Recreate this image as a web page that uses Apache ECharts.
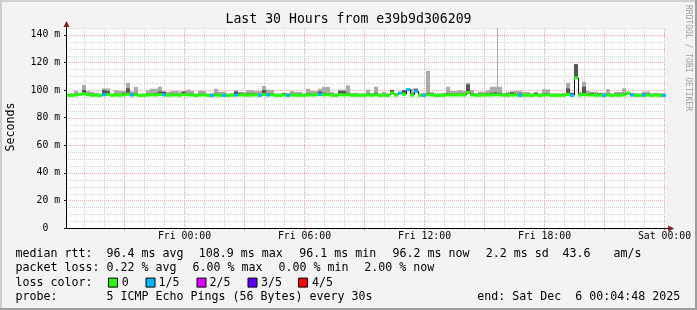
<!DOCTYPE html>
<html><head><meta charset="utf-8">
<script src="https://cdn.jsdelivr.net/npm/echarts@6/dist/echarts.min.js"></script>
<style>html,body{margin:0;padding:0;background:#f3f3f3}#c{width:697px;height:310px}</style>
</head><body><div id="c"></div>
<script>
// ---- time frame (hours relative to Fri 00:00) ----
const START_HOUR = -5.92;     // Thu 18:04:48
const SPAN_HOURS = 30;
const BUCKET_HOURS = 0.2;     // 12 minute buckets

// ---- data (ms) ----
const median = [
 96.3,96.2,96.4,97.0,97.2,96.6,96.3,96.3,96.2,96.6,
 96.8,96.3,96.4,96.3,96.5,97.0,96.4,96.6,96.2,96.2,
 96.4,96.5,96.4,96.8,96.5,96.3,96.4,96.4,96.3,96.8,
 96.5,96.4,96.2,96.4,96.5,96.2,96.2,96.4,96.3,96.2,
 96.2,96.3,96.4,96.5,96.4,96.3,96.4,96.4,96.2,96.8,
 96.4,96.5,96.2,96.1,96.4,96.2,96.4,96.3,96.3,96.2,
 96.4,96.4,96.5,96.8,96.5,96.6,96.3,96.2,96.6,96.5,
 96.6,96.3,96.3,96.2,96.3,96.4,96.3,96.5,96.2,96.3,
 96.2,97.8,96.4,97.9,97.0,100.3,96.4,99.2,96.3,96.2,
 96.6,96.4,96.2,96.2,96.3,96.5,96.4,96.4,96.5,96.4,
 98.2,96.5,96.3,96.3,96.4,96.4,96.5,96.6,96.5,96.3,
 96.3,96.4,96.4,96.2,96.3,96.3,96.2,96.4,96.2,96.4,
 96.5,96.2,96.2,96.2,96.3,96.8,96.2,108.9,96.4,96.7,
 96.5,96.4,96.3,96.3,96.2,96.4,96.2,96.3,96.3,96.5,
 97.8,96.4,96.2,96.2,96.3,96.4,96.2,96.3,96.2,96.2
];
const smokeHi = [
 97.4,97.6,99.3,97.8,103.6,99.3,98.6,98.0,97.5,101.2,
 101.2,97.4,100.0,99.3,99.3,105.3,99.0,102.2,97.4,97.6,
 100.0,101.0,101.0,102.4,98.6,98.6,99.3,99.5,99.0,99.3,
 100.4,99.5,97.5,99.5,99.5,97.5,97.6,101.0,98.8,98.8,
 97.5,97.6,99.8,98.6,98.6,100.0,100.0,99.3,99.3,102.9,
 100.4,100.0,97.6,97.5,98.0,97.9,99.3,98.6,98.6,97.6,
 101.0,99.3,99.3,101.0,102.2,102.2,98.6,97.6,100.4,100.4,
 103.4,97.8,98.0,97.6,97.6,100.4,97.8,102.4,97.6,98.8,
 97.6,100.0,97.8,98.5,100.0,101.0,101.0,101.0,97.6,97.8,
 114.0,98.5,97.6,97.6,97.8,102.4,99.3,99.3,100.0,99.3,
 105.3,100.0,97.8,98.8,98.8,100.0,102.4,102.4,102.4,97.8,
 98.8,99.0,99.5,99.5,98.6,98.6,97.6,98.6,97.6,100.5,
 100.5,97.6,97.6,97.6,97.8,105.3,98.0,118.8,98.4,106.0,
 99.5,98.6,98.6,98.0,98.0,100.7,97.6,98.6,98.6,101.2,
 98.5,98.0,97.6,97.6,99.0,99.0,97.8,98.0,97.8,97.6
];
const smokeDark = [
 97.0,97.0,97.4,97.4,100.0,97.8,97.2,97.0,97.0,100.0,
 99.3,97.0,97.4,97.2,98.0,101.2,97.4,98.0,97.0,97.0,
 97.4,97.4,97.6,99.0,99.0,97.2,97.4,97.4,97.2,98.8,
 97.4,97.4,97.0,97.4,97.4,97.0,97.0,97.6,97.2,97.2,
 97.0,97.0,99.0,98.0,97.2,97.6,97.6,97.4,97.2,100.0,
 97.6,97.6,97.0,97.0,97.8,97.0,97.4,97.2,97.2,97.0,
 97.6,97.4,97.4,99.0,98.0,97.8,97.2,97.0,99.3,99.3,
 98.0,97.2,97.2,97.0,97.0,97.6,97.2,98.0,97.0,97.2,
 97.0,100.0,97.2,97.9,100.0,100.3,97.4,101.0,97.0,97.0,
 98.0,97.4,97.0,97.0,97.2,97.8,97.4,97.4,97.6,97.4,
 104.0,97.6,97.2,97.4,97.4,97.6,98.0,98.5,98.0,97.2,
 97.4,98.5,97.6,97.4,97.2,97.2,97.0,98.0,97.0,97.6,
 97.6,97.0,97.0,97.0,97.2,101.2,98.0,118.8,97.4,102.4,
 97.6,98.0,97.4,97.8,97.0,97.6,97.0,97.4,97.4,97.6,
 98.2,97.2,97.0,97.0,97.4,97.4,97.0,97.2,97.0,97.0
];
// number of lost pings (out of 5) per bucket
const lossCount = [
 0,0,0,0,0,0,0,0,0,1, 0,0,0,0,0,0,1,0,0,0,
 0,0,0,0,1,0,0,0,0,0, 0,0,0,0,0,0,1,0,0,1,
 0,0,1,0,0,0,0,0,1,0, 1,0,0,0,0,1,0,0,0,0,
 0,0,0,1,0,0,0,0,0,0, 0,0,0,0,0,0,0,0,0,0,
 0,0,0,1,0,1,0,1,0,1, 0,0,0,0,0,0,0,0,0,0,
 0,0,0,0,0,0,0,0,0,0, 0,0,0,1,0,0,0,0,0,0,
 0,0,0,0,0,0,1,0,0,0, 0,0,0,0,1,0,0,0,0,0,
 0,1,0,0,1,0,0,0,0,1
];
// single-sample outliers (hour relative to Fri 00:00, max rtt in ms)
const spikeHours = [15.64];
const spikeValues = [145];

const lossColors = ['#26ff00','#00b8ff','#dd00ff','#5e00ff','#ff0000'];
const lossLabels = ['0','1/5','2/5','3/5','4/5'];

const xTickHours = [0,6,12,18,24];
const xTickLabels = ['Fri 00:00','Fri 06:00','Fri 12:00','Fri 18:00','Sat 00:00'];
const yTickValues = [0,20,40,60,80,100,120,140];
const yTickLabels = ['0  ','20 m','40 m','60 m','80 m','100 m','120 m','140 m'];
const Y_MAX = 145;
const gridHours = [];
for (let h = -5; h <= 24; h++) gridHours.push(h);
const gridValues = [];
for (let v = 5; v <= 145; v += 5) gridValues.push(v);

const titleText = 'Last 30 Hours from e39b9d306209';
const legendRtt = [
  ['median rtt:  96.4 ms avg', 15.5],
  ['108.9 ms max', 198.8],
  ['96.1 ms min', 299.2],
  ['96.2 ms now', 392.5],
  ['2.2 ms sd', 485.7],
  ['43.6', 562.5],
  ['am/s', 613.5]
];
const legendLoss = [
  ['packet loss: 0.22 % avg', 15.5],
  ['6.00 % max', 192.5],
  ['0.00 % min', 278.5],
  ['2.00 % now', 364.2]
];
const probeText = ['probe:', '5 ICMP Echo Pings (56 Bytes) every 30s'];
const endText = 'end: Sat Dec  6 00:04:48 2025';

const MONO = '"DejaVu Sans Mono", monospace';
const MAJOR = '#f5a8a8', MINOR = '#d2d2d2';

const chart = echarts.init(document.getElementById('c'), null, {renderer: 'canvas'});

function bx(api, i) {
  const a = api.coord([START_HOUR + i * BUCKET_HOURS, 0])[0];
  const b = api.coord([START_HOUR + (i + 1) * BUCKET_HOURS, 0])[0];
  return [Math.round(a), Math.round(b)];
}

const option = {
  animation: false,
  backgroundColor: '#f3f3f3',
  grid: {left: 66.1, width: 600, top: 28, height: 200, backgroundColor: '#ffffff', show: true, borderWidth: 0},
  xAxis: {
    type: 'value', min: START_HOUR, max: START_HOUR + SPAN_HOURS,
    axisLine: {show: false, onZero: false},
    axisTick: {show: true, customValues: [-3,0,3,6,9,12,15,18,21,24], length: 2, lineStyle: {color: '#e06060'}},
    axisLabel: {
      customValues: xTickHours, margin: 3,
      fontFamily: MONO, fontSize: 9.8, color: '#000',
      formatter: v => { const k = xTickHours.indexOf(Math.round(v * 1000) / 1000); return k >= 0 ? xTickLabels[k] : ''; }
    },
    splitLine: {show: false}
  },
  yAxis: {
    type: 'value', min: 0, max: Y_MAX, interval: 20,
    axisLine: {show: false, onZero: false},
    axisTick: {show: true, customValues: yTickValues, length: 2, lineStyle: {color: '#000'}},
    axisLabel: {
      customValues: yTickValues, margin: 6,
      fontFamily: MONO, fontSize: 9.8, color: '#000',
      formatter: v => { const k = yTickValues.indexOf(v); return k >= 0 ? yTickLabels[k] : ''; }
    },
    splitLine: {show: false}
  },
  series: [
    { // vertical grid
      type: 'custom', silent: true, z: 1,
      data: gridHours.map(h => [h, 0]),
      renderItem(p, api) {
        const h = gridHours[p.dataIndex];
        const x = Math.floor(api.coord([h, 0])[0]) + 0.5;
        const yb = api.coord([h, 0])[1], yt = api.coord([h, Y_MAX])[1];
        return {type: 'line', shape: {x1: x, y1: yt, x2: x, y2: yb},
          style: {stroke: h % 3 === 0 ? MAJOR : MINOR, lineWidth: 1, lineDash: [1, 1]}};
      }
    },
    { // horizontal grid
      type: 'custom', silent: true, z: 1,
      data: gridValues.map(v => [START_HOUR, v]),
      renderItem(p, api) {
        const v = gridValues[p.dataIndex];
        const y = Math.round(api.coord([START_HOUR, v])[1]) + 0.5;
        const x0 = api.coord([START_HOUR, v])[0], x1 = api.coord([START_HOUR + SPAN_HOURS, v])[0];
        return {type: 'line', shape: {x1: x0, y1: y, x2: x1, y2: y},
          style: {stroke: v % 20 === 0 ? MAJOR : MINOR, lineWidth: 1, lineDash: [1, 1]}};
      }
    },
    { // smoke
      type: 'custom', silent: true, clip: true, z: 2,
      data: median.map((m, i) => [START_HOUR + (i + 0.5) * BUCKET_HOURS, m]),
      renderItem(p, api) {
        const i = p.dataIndex;
        const [x0, x1] = bx(api, i);
        const ym = api.coord([0, median[i]])[1];
        const yh = api.coord([0, smokeHi[i]])[1];
        const yd = api.coord([0, smokeDark[i]])[1];
        return {type: 'group', children: [
          {type: 'rect', shape: {x: x0, y: yh, width: x1 - x0, height: ym - yh + 1}, style: {fill: '#aaaaaa'}},
          {type: 'rect', shape: {x: x0, y: yd, width: x1 - x0, height: ym - yd + 1}, style: {fill: '#555555'}}
        ]};
      }
    },
    { // thin single-sample spikes
      type: 'custom', silent: true, clip: true, z: 2,
      data: spikeHours.map((h, k) => [h, spikeValues[k]]),
      renderItem(p, api) {
        const k = p.dataIndex;
        const top = api.coord([spikeHours[k], spikeValues[k]]);
        const bot = api.coord([spikeHours[k], 97]);
        const x = Math.floor(top[0]) + 0.5;
        return {type: 'line', shape: {x1: x, y1: top[1], x2: x, y2: bot[1]}, style: {stroke: '#aaaaaa', lineWidth: 1}};
      }
    },
    { // median line coloured by loss
      type: 'custom', silent: true, clip: true, z: 3,
      data: median.map((m, i) => [START_HOUR + (i + 0.5) * BUCKET_HOURS, m]),
      renderItem(p, api) {
        const i = p.dataIndex;
        const [x0, x1] = bx(api, i);
        const ym = api.coord([0, median[i]])[1];
        const yp = api.coord([0, median[i > 0 ? i - 1 : i]])[1];
        return {type: 'group', children: [
          {type: 'line', shape: {x1: x0 + 0.5, y1: yp, x2: x0 + 0.5, y2: ym}, style: {stroke: '#111', lineWidth: 1}},
          {type: 'line', shape: {x1: x0, y1: ym, x2: x1, y2: ym}, style: {stroke: lossColors[lossCount[i]], lineWidth: 3, lineCap: 'butt'}}
        ]};
      }
    }
  ]
};
chart.setOption(option);

// ---- decorations & texts ----
const g = [];
// frame
g.push({type: 'rect', shape: {x: 0, y: 0, width: 697, height: 2}, style: {fill: '#cfcfcf'}, z: 100});
g.push({type: 'rect', shape: {x: 0, y: 0, width: 2, height: 310}, style: {fill: '#cfcfcf'}, z: 100});
g.push({type: 'rect', shape: {x: 695, y: 0, width: 2, height: 310}, style: {fill: '#9e9e9e'}, z: 100});
g.push({type: 'rect', shape: {x: 0, y: 308, width: 697, height: 2}, style: {fill: '#9e9e9e'}, z: 100});

// axis lines + arrows
const o = chart.convertToPixel({gridIndex: 0}, [START_HOUR, 0]);
const e = chart.convertToPixel({gridIndex: 0}, [START_HOUR + SPAN_HOURS, Y_MAX]);
const ax = Math.floor(o[0]) + 0.5, ay = Math.round(o[1]) + 0.5;
g.push({type: 'line', shape: {x1: ax - 0.5, y1: ay, x2: e[0] + 3, y2: ay}, style: {stroke: '#000', lineWidth: 1}, z: 50});
g.push({type: 'line', shape: {x1: ax, y1: ay + 0.5, x2: ax, y2: e[1] - 2}, style: {stroke: '#000', lineWidth: 1}, z: 50});
g.push({type: 'polygon', shape: {points: [[e[0] + 2, ay - 3], [e[0] + 2, ay + 3], [e[0] + 8, ay]]}, style: {fill: '#7f1f1f'}, z: 50});
g.push({type: 'polygon', shape: {points: [[ax - 3, e[1] - 1], [ax + 3, e[1] - 1], [ax, e[1] - 7]]}, style: {fill: '#7f1f1f'}, z: 50});

function txt(text, x, y, size, opts) {
  return Object.assign({type: 'text', x: x, y: y, z: 60,
    style: {text: text, font: size + 'px ' + MONO, fill: '#000',
      align: 'left', verticalAlign: 'middle', textAlign: 'left', textVerticalAlign: 'middle'}}, opts || {});
}
const title = txt(titleText, 348.5, 19.5, 13.2);
title.style.align = title.style.textAlign = 'center';
g.push(title);

const yName = txt('Seconds', 10.5, 127, 11.6, {rotation: Math.PI / 2});
yName.style.align = yName.style.textAlign = 'center';
g.push(yName);

const credit = txt('RRDTOOL / TOBI OETIKER', 688.5, 58, 8, {rotation: -Math.PI / 2});
credit.style.align = credit.style.textAlign = 'center';
credit.style.fill = '#a0a0a0';
g.push(credit);

const LF = 11.63;
const rows = [254.2, 268.4, 282.6, 296.8];
legendRtt.forEach(([t, x]) => g.push(txt(t, x, rows[0], LF)));
legendLoss.forEach(([t, x]) => g.push(txt(t, x, rows[1], LF)));
g.push(txt('loss color:', 15.5, rows[2], LF));
const boxX = [108.5, 146, 197, 248, 298.5];
const labX = [121.8, 158.6, 209.6, 261, 312];
lossColors.forEach((c, k) => {
  g.push({type: 'rect', z: 60, shape: {x: boxX[k], y: rows[2] - 4.5, width: 9, height: 9}, style: {fill: c, stroke: '#000', lineWidth: 1}});
  g.push(txt(lossLabels[k], labX[k], rows[2], LF));
});
g.push(txt(probeText[0], 15.5, rows[3], LF));
g.push(txt(probeText[1], 106.5, rows[3], LF));
g.push(txt(endText, 477.3, rows[3], LF));

chart.setOption({graphic: g});
</script></body></html>
